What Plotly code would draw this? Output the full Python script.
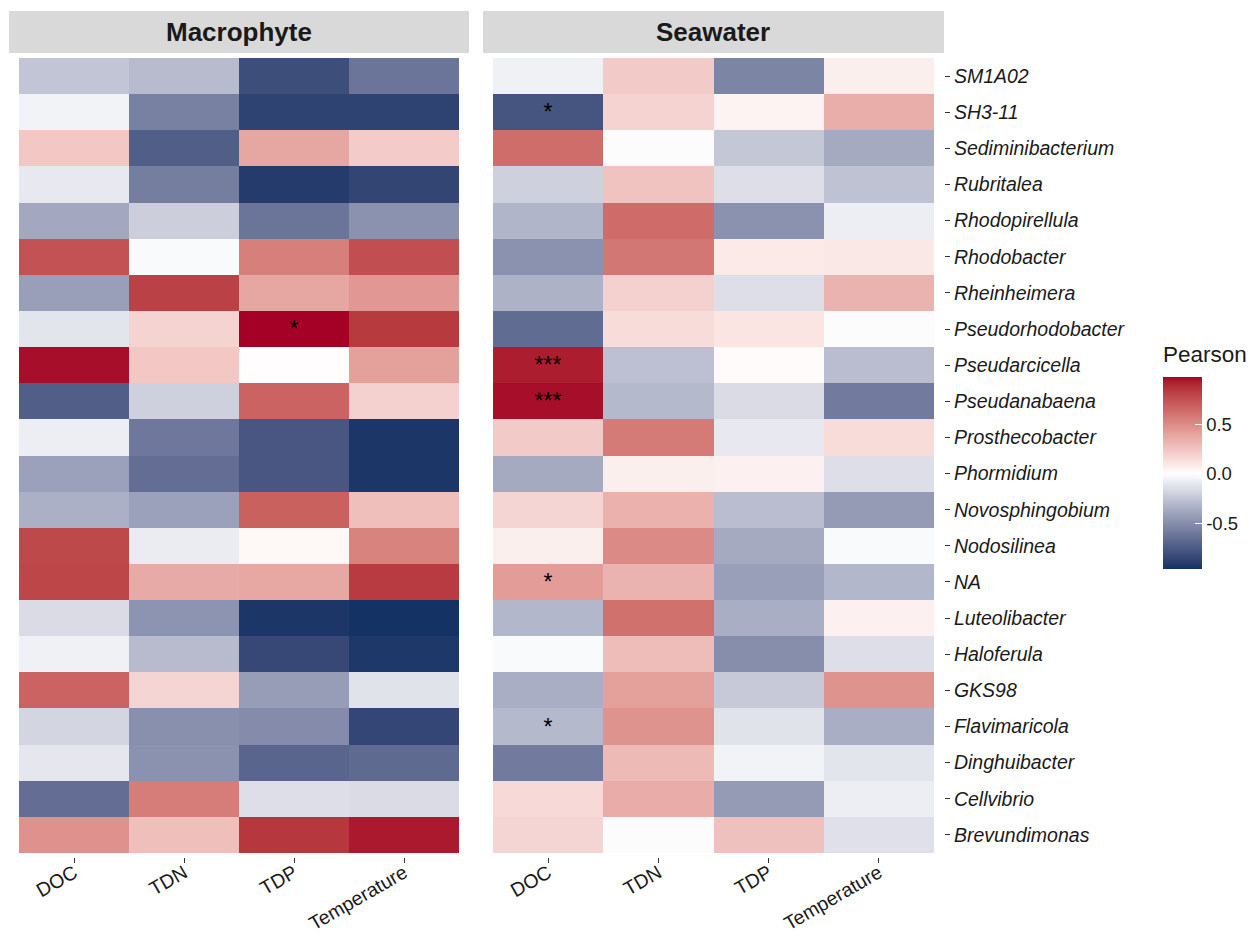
import plotly.graph_objects as go

genera = ["SM1A02", "SH3-11", "Sediminibacterium", "Rubritalea", "Rhodopirellula",
          "Rhodobacter", "Rheinheimera", "Pseudorhodobacter", "Pseudarcicella",
          "Pseudanabaena", "Prosthecobacter", "Phormidium", "Novosphingobium",
          "Nodosilinea", "NA", "Luteolibacter", "Haloferula", "GKS98",
          "Flavimaricola", "Dinghuibacter", "Cellvibrio", "Brevundimonas"]
variables = ["DOC", "TDN", "TDP", "Temperature"]
panels = ["Macrophyte", "Seawater"]

mac_DOC = [-0.25, -0.05, 0.24, -0.09, -0.38, 0.75, -0.42, -0.11, 0.96, -0.73, -0.07,
           -0.41, -0.34, 0.785, 0.80, -0.15, -0.06, 0.68, -0.18, -0.10, -0.65, 0.48]
mac_TDN = [-0.29, -0.56, -0.73, -0.57, -0.21, -0.02, 0.82, 0.19, 0.24, -0.20, -0.60,
           -0.65, -0.41, -0.08, 0.37, -0.47, -0.29, 0.18, -0.49, -0.48, 0.57, 0.28]
mac_TDP = [-0.81, -0.87, 0.39, -0.91, -0.62, 0.56, 0.39, 0.98, 0.01, 0.68, -0.77,
           -0.77, 0.69, 0.03, 0.38, -0.94, -0.84, -0.43, -0.51, -0.69, -0.14, 0.85]
mac_Temp = [-0.62, -0.87, 0.22, -0.86, -0.48, 0.76, 0.45, 0.845, 0.41, 0.20, -0.94,
            -0.94, 0.28, 0.54, 0.84, -0.96, -0.93, -0.12, -0.85, -0.67, -0.15, 0.94]

sea_DOC = [-0.06, -0.78, 0.635, -0.20, -0.32, -0.48, -0.33, -0.66, 0.93, 0.96, 0.23,
           -0.37, 0.18, 0.07, 0.43, -0.31, -0.02, -0.35, -0.30, -0.59, 0.16, 0.18]
sea_TDN = [0.23, 0.19, 0.00, 0.26, 0.64, 0.59, 0.20, 0.15, -0.27, -0.30, 0.58,
           0.07, 0.34, 0.51, 0.33, 0.62, 0.29, 0.41, 0.47, 0.30, 0.36, 0.00]
sea_TDP = [-0.54, 0.05, -0.24, -0.14, -0.48, 0.09, -0.14, 0.11, 0.02, -0.15, -0.09,
           0.06, -0.28, -0.37, -0.42, -0.35, -0.50, -0.23, -0.12, -0.05, -0.44, 0.27]
sea_Temp = [0.07, 0.35, -0.37, -0.26, -0.07, 0.10, 0.33, 0.00, -0.28, -0.59, 0.15,
            -0.14, -0.44, -0.02, -0.31, 0.06, -0.14, 0.47, -0.35, -0.11, -0.07, -0.13]

# significance labels: (panel, genus, variable, label)
stars = [("Macrophyte", "Pseudorhodobacter", "TDP", "*"),
         ("Seawater", "SH3-11", "DOC", "*"),
         ("Seawater", "Pseudarcicella", "DOC", "***"),
         ("Seawater", "Pseudanabaena", "DOC", "***"),
         ("Seawater", "NA", "DOC", "*"),
         ("Seawater", "Flavimaricola", "DOC", "*")]

colorbar_ticks = [-0.5, 0.0, 0.5]
colorbar_ticktext = ["-0.5", "0.0", "0.5"]

LOW, MID, HIGH = "#0B2F61", "#FFFFFF", "#A50026"


# ---- Lab interpolation (like ggplot's scale_fill_gradient2) ----
def hex2rgb(h):
    h = h.lstrip("#")
    return [int(h[i:i + 2], 16) for i in (0, 2, 4)]


def to_lin(c):
    c = c / 255
    return c / 12.92 if c <= 0.04045 else ((c + 0.055) / 1.055) ** 2.4


def from_lin(c):
    c = 12.92 * c if c <= 0.0031308 else 1.055 * c ** (1 / 2.4) - 0.055
    return max(0, min(255, round(c * 255)))


WP = (0.95047, 1.0, 1.08883)


def rgb2lab(rgb):
    r, g, b = [to_lin(v) for v in rgb]
    x = 0.4124 * r + 0.3576 * g + 0.1805 * b
    y = 0.2126 * r + 0.7152 * g + 0.0722 * b
    z = 0.0193 * r + 0.1192 * g + 0.9505 * b

    def f(t):
        return t ** (1 / 3) if t > 0.008856 else 7.787 * t + 16 / 116
    fx, fy, fz = f(x / WP[0]), f(y / WP[1]), f(z / WP[2])
    return (116 * fy - 16, 500 * (fx - fy), 200 * (fy - fz))


def lab2rgb(lab):
    L, a, bb = lab
    fy = (L + 16) / 116
    fx = fy + a / 500
    fz = fy - bb / 200

    def finv(t):
        return t ** 3 if t ** 3 > 0.008856 else (t - 16 / 116) / 7.787
    x, y, z = finv(fx) * WP[0], finv(fy) * WP[1], finv(fz) * WP[2]
    r = 3.2406 * x - 1.5372 * y - 0.4986 * z
    g = -0.9689 * x + 1.8758 * y + 0.0415 * z
    b = 0.0557 * x - 0.2040 * y + 1.0570 * z
    return "rgb(%d,%d,%d)" % (from_lin(max(r, 0)), from_lin(max(g, 0)), from_lin(max(b, 0)))


lab_low, lab_mid, lab_high = [rgb2lab(hex2rgb(c)) for c in (LOW, MID, HIGH)]

all_vals = mac_DOC + mac_TDN + mac_TDP + mac_Temp + sea_DOC + sea_TDN + sea_TDP + sea_Temp
vmin, vmax = min(all_vals), max(all_vals)
vabs = max(abs(vmin), abs(vmax))

colorscale = []
N = 60
for i in range(N + 1):
    s = i / N
    v = vmin + s * (vmax - vmin)
    p = v / vabs / 2 + 0.5
    if p >= 0.5:
        t = (p - 0.5) * 2
        a, b = lab_mid, lab_high
    else:
        t = (0.5 - p) * 2
        a, b = lab_mid, lab_low
    lab = tuple(a[k] + (b[k] - a[k]) * t for k in range(3))
    colorscale.append([s, lab2rgb(lab)])

# ---- page geometry (screen pixels; page body has an 8px margin) ----
OFF = 8
W, H = 1255 - 2 * OFF, 943 - 2 * OFF   # fits the window without scrollbars


def px(X):
    return (X - OFF) / W


def py(Y):
    return 1 - (Y - OFF) / H


FONT = "Liberation Sans, Arial, sans-serif"
nrow = len(genera)
yidx = [nrow - 1 - i for i in range(nrow)]  # top row = SM1A02

data_by_panel = {
    "Macrophyte": [mac_DOC, mac_TDN, mac_TDP, mac_Temp],
    "Seawater": [sea_DOC, sea_TDN, sea_TDP, sea_Temp],
}

fig = go.Figure()
for pi, panel in enumerate(panels):
    cols = data_by_panel[panel]
    z = [[cols[j][i] for j in range(4)] for i in range(nrow)]
    txt = [["" for _ in range(4)] for _ in range(nrow)]
    for (pn, g, var, lab) in stars:
        if pn == panel:
            txt[genera.index(g)][variables.index(var)] = lab
    fig.add_trace(go.Heatmap(
        z=z, x=list(range(4)), y=yidx, text=txt, texttemplate="%{text}",
        textfont=dict(size=23, color="black", family=FONT),
        coloraxis="coloraxis", xgap=0, ygap=0,
        xaxis="x" if pi == 0 else "x2", yaxis="y" if pi == 0 else "y2",
        hoverinfo="skip"))

# panel pixel layout
panel_x = [(9, 469), (483, 944)]
panel_top, panel_bot = 54, 857
strip_top, strip_bot = 11, 53
tile_w = 110.0
row_h = (853 - 58) / nrow
padx = 10 / tile_w
pady = 4 / row_h

xfont = dict(family=FONT, size=19.5, color="#1A1A1A")
yfont = dict(family=FONT, size=19.5, color="#1A1A1A")
common_x = dict(tickmode="array", tickvals=list(range(4)), ticktext=variables,
                range=[-0.5 - padx, 3.5 + padx], tickangle=-30, ticks="outside",
                ticklen=5, tickwidth=1.1, tickcolor="#333333", tickfont=xfont,
                ticklabelstandoff=-9, automargin=False,
                showgrid=False, zeroline=False, showline=False)

# colorbar geometry
cb_left, cb_top, cb_len, cb_thick = 1163, 377, 192, 39

fig.update_layout(
    width=W, height=H, margin=dict(l=0, r=0, t=0, b=0, autoexpand=False),
    paper_bgcolor="white", plot_bgcolor="white",
    font=dict(family=FONT),
    xaxis=dict(common_x, domain=[px(panel_x[0][0]), px(panel_x[0][1])], anchor="y"),
    xaxis2=dict(common_x, domain=[px(panel_x[1][0]), px(panel_x[1][1])], anchor="y2"),
    yaxis=dict(domain=[py(panel_bot), py(panel_top)], range=[-0.5 - pady, nrow - 0.5 + pady],
               showticklabels=False, ticks="", showgrid=False, zeroline=False, anchor="x",
               automargin=False),
    yaxis2=dict(domain=[py(panel_bot), py(panel_top)], range=[-0.5 - pady, nrow - 0.5 + pady],
                side="right", anchor="x2", tickmode="array", tickvals=yidx,
                ticktext=["<i>%s</i>" % g for g in genera], ticks="outside", ticklen=5,
                tickwidth=1.1, tickcolor="#333333", tickfont=yfont, automargin=False,
                showgrid=False, zeroline=False),
    coloraxis=dict(
        colorscale=colorscale, cmin=vmin, cmax=vmax,
        colorbar=dict(
            thickness=cb_thick, lenmode="pixels", len=cb_len, x=px(cb_left), xanchor="left",
            y=py(cb_top), yanchor="top", outlinewidth=0, xpad=0, ypad=0,
            tickvals=colorbar_ticks, ticktext=colorbar_ticktext,
            ticks="inside", ticklen=7, tickcolor="white", tickwidth=1,
            tickfont=dict(size=18.5, color="#1A1A1A", family=FONT))),
)

# white tick marks on the left edge of the colour bar too (ggplot style)
for v in colorbar_ticks:
    Y = cb_top + cb_len * (vmax - v) / (vmax - vmin)
    fig.add_shape(type="line", xref="paper", yref="paper",
                  x0=px(cb_left), x1=px(cb_left + 7), y0=py(Y), y1=py(Y),
                  line=dict(color="white", width=1), layer="above")

# legend title
fig.add_annotation(xref="paper", yref="paper", x=px(1161), y=py(355), text="Pearson",
                   showarrow=False, xanchor="left", yanchor="middle",
                   font=dict(size=22.5, color="#1A1A1A", family=FONT))

# strips
for pi, panel in enumerate(panels):
    x0, x1 = panel_x[pi]
    fig.add_shape(type="rect", xref="paper", yref="paper",
                  x0=px(x0), x1=px(x1), y0=py(strip_bot), y1=py(strip_top),
                  fillcolor="#D9D9D9", line=dict(width=0), layer="below")
    fig.add_annotation(xref="paper", yref="paper", x=px((x0 + x1) / 2),
                       y=py((strip_top + strip_bot) / 2), text="<b>%s</b>" % panel,
                       showarrow=False, xanchor="center", yanchor="middle",
                       font=dict(size=26, color="#1A1A1A", family=FONT))

fig.write_html("out.html")
